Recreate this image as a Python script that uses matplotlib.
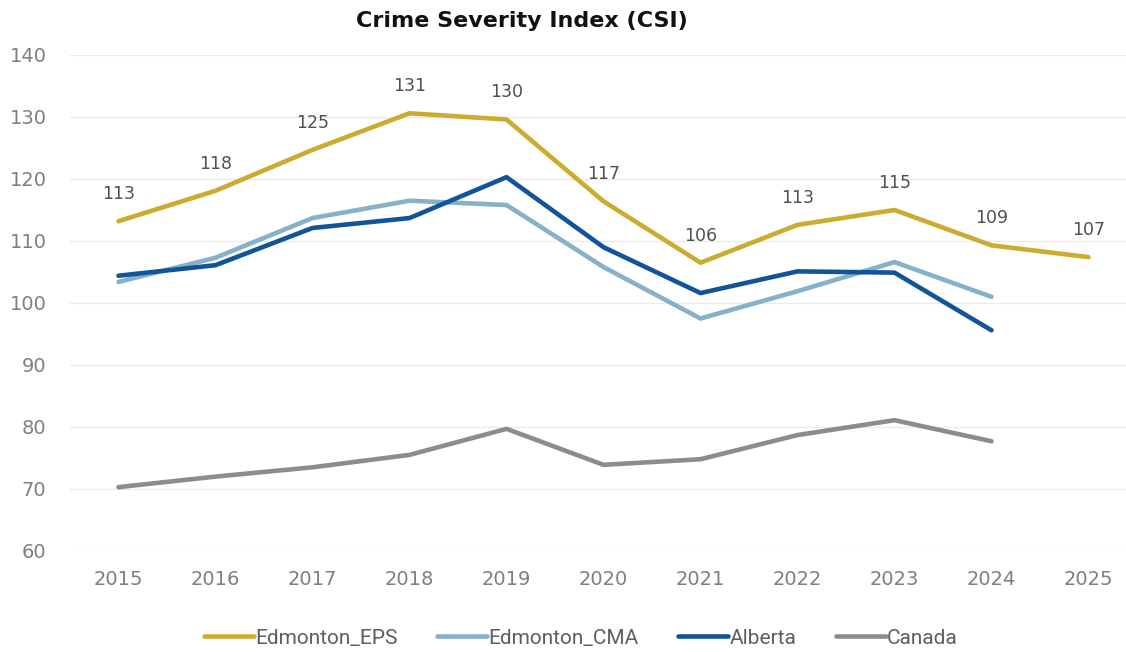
import matplotlib.pyplot as plt

years = [2015, 2016, 2017, 2018, 2019, 2020, 2021, 2022, 2023, 2024, 2025]
edmonton_eps = [113.2, 118.1, 124.7, 130.6, 129.6, 116.4, 106.5, 112.6, 115.0, 109.3, 107.4]
eps_labels = ["113", "118", "125", "131", "130", "117", "106", "113", "115", "109", "107"]
edmonton_cma = [103.4, 107.3, 113.7, 116.5, 115.8, 105.8, 97.5, 101.9, 106.6, 101.0]
alberta = [104.4, 106.1, 112.1, 113.7, 120.3, 109.0, 101.6, 105.1, 104.9, 95.6]
canada = [70.3, 72.0, 73.5, 75.5, 79.7, 73.9, 74.8, 78.7, 81.1, 77.7]

plt.rcParams['font.family'] = ['DejaVu Sans']

fig = plt.figure(figsize=(11.26, 6.52), dpi=100)
ax = fig.add_axes([70 / 1126, 101 / 652, 1067 / 1126, 496 / 652])

ax.plot(years, edmonton_eps, color="#CDAB2F", lw=3.3, label="Edmonton_EPS", solid_capstyle="round")
ax.plot(years[:10], edmonton_cma, color="#87B0C9", lw=3.3, label="Edmonton_CMA", solid_capstyle="round")
ax.plot(years[:10], alberta, color="#12549A", lw=3.3, label="Alberta", solid_capstyle="round")
ax.plot(years[:10], canada, color="#8C8C8C", lw=3.3, label="Canada", solid_capstyle="round")

for x, y, t in zip(years, edmonton_eps, eps_labels):
    ax.annotate(t, (x, y), xytext=(0, 13), textcoords="offset points",
                ha="center", va="bottom", fontsize=12.5, color="#505050")

ax.set_xlim(2014.5, 2025.5)
ax.set_ylim(60, 140)
ax.set_yticks(range(60, 141, 10))
ax.set_xticks(years)
ax.grid(axis="y", color="#EBEBEB", lw=1)
ax.set_axisbelow(True)
for s in ax.spines.values():
    s.set_visible(False)
ax.tick_params(length=0, labelsize=14, colors="#7F7F7F", pad=14)
ax.tick_params(axis="y", pad=17)

fig.text(522 / 1126, 1 - 21 / 652, "Crime Severity Index (CSI)", ha="center", va="center",
         fontsize=16, fontweight="bold", color="#111111")

leg = fig.legend(loc="center", bbox_to_anchor=(581 / 1126, 1 - 638 / 652), ncol=4, frameon=False,
                 prop={"family": "Roboto", "size": 15}, handlelength=2.4, handletextpad=0.05,
                 columnspacing=1.9)
for t in leg.get_texts():
    t.set_color("#5F5F5F")

fig.savefig("out.png", dpi=100)
